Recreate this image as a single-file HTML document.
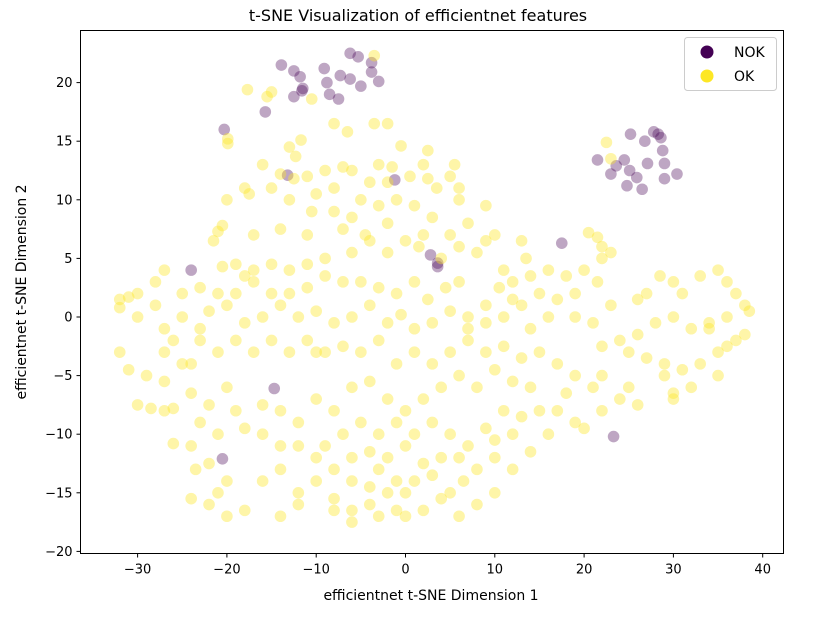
<!DOCTYPE html>
<html><head><meta charset="utf-8"><style>
body{margin:0;background:#fff;}
svg{display:block;font-family:"DejaVu Sans","Liberation Sans",sans-serif;}
</style></head><body>
<svg id="chart" width="836" height="630">
<rect x="0" y="0" width="836" height="630" fill="#fff"/>
<g id="marks"></g>
<rect x="80.5" y="30.5" width="703" height="523" fill="none" stroke="#000" stroke-width="1"/>
<g id="axes"></g>
<text x="418" y="21" text-anchor="middle" font-size="16">t-SNE Visualization of efficientnet features</text>
<text x="431" y="600" text-anchor="middle" font-size="14">efficientnet t-SNE Dimension 1</text>
<text transform="translate(26,292) rotate(-90)" text-anchor="middle" font-size="14">efficientnet t-SNE Dimension 2</text>
<g>
<rect x="684.5" y="37.5" width="92" height="53" rx="3" fill="#fff" fill-opacity="0.8" stroke="#ccc"/>
<g><circle cx="707" cy="52" r="6.5" fill="#440154"/><text x="734" y="57" font-size="14">NOK</text></g>
<g><circle cx="707" cy="76" r="6.5" fill="#fde725"/><text x="734" y="81" font-size="14">OK</text></g>
</g>
</svg>
<script>
const xTicks=[-30,-20,-10,0,10,20,30,40];
const yTicks=[-20,-15,-10,-5,0,5,10,15,20];
const nokX=[-13.9,-12.5,-11.8,-11.5,-12.5,-15.7,-20.3,-9.1,-8.8,-8.5,-7.5,-7.3,-6.2,-5,-6.2,-5.3,-3.8,-3.8,-3,-13.2,-1.2,-11.6,-24,2.8,3.6,3.6,17.5,-14.7,-20.5,23.3,25.2,26.8,27.8,28.3,28.6,28.8,21.5,23.6,24.5,23,25.1,25.9,24.8,26.5,27.1,29,29,30.4];
const nokY=[21.5,21,20.5,19.5,18.8,17.5,16,21.2,20,19,18.6,20.6,20.3,19.7,22.5,22.2,21.7,20.9,20.1,12.1,11.7,19.3,4,5.3,4.6,4.3,6.3,-6.1,-12.1,-10.2,15.6,15,15.8,15.6,15.3,14.2,13.4,12.9,13.4,12.2,12.5,11.9,11.2,10.9,13.1,13.1,11.8,12.2];
const okX=[-3.5,-17.7,-15.5,-15,-10.5,-11.7,-12.3,-13,-8,-6.5,-3.5,-2,-0.5,2.5,-19.9,-19.9,-3,-1.5,-11,-9,-7,-14,-12.5,-16,-18,-17.5,-20,-6,-4,-5,0.5,2,2.5,-2,3.5,5.5,5,6,-15,-13,-10,-8,-10.5,-8,-6,-3,-1,1,3,6,9,10,7,5,2,-2,-4.5,-7,-11,-14,-17,-20.5,-21,-21.5,-19,-20.5,-18,-17,-15,-13,-11,-9,-6,-4,-2,0,1.5,4,6,8,9,13,13.5,11,16,14,12,18,20.5,21.5,22,23,22,20,21.5,19,17,15,13,10.5,9,7,6,4.5,2.5,1,-1,-3,-5,-7,-9,-11,-13,-15,-17,-19,-21,-23,-25,-27,-28,-30,-31,-32,-32,-30,-28,-27,-26,-25,-23,-22,-20,-18,-16,-14,-12,-10,-8,-6,-4,-2,-0.5,1,3,5,7,9,11,12,14,16,19,21,23,26,27,28.5,30,31,33,35,36,37,38,38.5,36,34,32,30,28,26,24,22,25,27,29,31,33,35,37,38,36,34,30,32,35,29,25,21,19,17,15,13,11,9,7,5,3,1,-1,-3,-5,-7,-9,-11,-13,-15,-17,-19,-21,-23,-25,-27,-29,-31,-32,-30,-28.5,-27,-24,-22,-20,-19,-18,-21,-23,-24,-22,-23.5,-20,-21,-22,-24,-20,-18,-16,-14,-12,-10,-8,-6,-4,-2,0,1,3,5,6.5,8,10,12,13,15,16,17,19,20,22,24,26,22,18,14,12,10,8,6,4,2,0,-2,-4,-6,-8,-10,-12,-14,-16,-9,-7,-5,-3,-1,1,3,5,7,9,11,6,4,2,0,-2,-4,-6,-8,-10,-12,-14,-16,0,-1,-3,2,4,8,10,12,14,10,-26,-27,-24,-10,30,-6,-4,-8,-12,-14,-6,-1,6,-3,-26,23,22.5];
const okY=[22.3,19.4,18.8,19.2,18.6,15.1,13.7,14.5,16.5,15.8,16.5,16.5,14.6,14.2,15.2,14.8,13,12.8,12,12.5,12.8,12.2,11.8,13,11,10.5,10,12.5,11.5,10,12,13,11.8,11.5,11,13,12,11,11,10,10.5,11,9,9,8.5,9.5,10,9.5,8.5,10,9.5,7,8,7,7,8,7,7.5,7,7.5,7,7.8,7.3,6.5,4.5,4.3,3.5,4,4.5,4,4.5,5,5.5,6.5,5.5,6.5,6,5,6,5.5,6.5,6.5,5,4,4,3.5,3,3.5,7.2,6.8,6,5.5,5,4,3,2,1.5,2,1,2.5,1,0,3,2.5,1.5,3,2,2.5,3,3,3.5,2.5,2,2,3,2,2,2.5,2,4,3,2,1.7,1.5,0.8,0,1,-1,-2,0,-1,0.5,1,-0.5,0,1,0,0.5,-0.5,0,1,-0.5,0.2,-1,-0.5,0.5,-1,-0.5,0,1.5,-1,0,0,-0.5,1,1.5,2,3.5,3,2,3.5,4,3,2,1,0.5,0,-0.5,-1,0,-0.5,-1.5,-2,-2.5,-3,-3.5,-4,-4.5,-4,-3,-2,-1.5,-2.5,-1,-6.5,-6,-5,-5,-6,-6,-5,-4,-3,-3.5,-2.5,-3,-2,-3,-4,-3,-4,-2,-3,-2.5,-3,-2,-3,-2,-3,-2,-3,-2,-4,-3,-5,-4.5,-3,-7.5,-7.8,-5.5,-6.5,-7.5,-6,-8,-9.5,-10,-9,-11,-12.5,-13,-14,-15,-16,-15.5,-17,-16.5,-14,-13,-15,-14,-15.5,-16.5,-16,-15,-17,-14,-13.5,-15,-14,-13,-12,-10,-8.5,-8,-10,-8,-9,-9.5,-8,-7,-7.5,-5,-6.5,-6,-5.5,-4.5,-6,-5,-6,-7,-8,-7,-5.5,-6,-8,-7,-9,-8,-7.5,-11,-10,-9,-10,-9,-10,-9,-10,-11,-9.5,-8,-12,-12,-12.5,-11,-12,-11.5,-12,-13,-12,-11,-11,-10,-15,-16.5,-17,-16.5,-15.5,-16,-15,-13,-11.5,-10.5,-10.8,-8,-4,-3,-7,-14,-14.5,-16.5,-16,-17,-17.5,-14,-17,-13,-7.8,13.5,14.9];
const NS='http://www.w3.org/2000/svg';
const X0=80.5,X1=783.5,Y0=30.5,Y1=553.5;
function sx(v){return 405.5+(v)*8.93;}
function sy(v){return 317-(v)*11.72;}
const marks=document.getElementById('marks');
const axes=document.getElementById('axes');
for(let i=0;i<nokX.length;i++){
  const c=document.createElementNS(NS,'circle');
  c.setAttribute('cx',sx(nokX[i]));c.setAttribute('cy',sy(nokY[i]));c.setAttribute('r',5.8);
  c.setAttribute('fill','#440154');c.setAttribute('fill-opacity','0.35');
  
  
  marks.appendChild(c);
}
for(let i=0;i<okX.length;i++){
  const c=document.createElementNS(NS,'circle');
  c.setAttribute('cx',sx(okX[i]));c.setAttribute('cy',sy(okY[i]));c.setAttribute('r',5.8);
  c.setAttribute('fill','#fde725');c.setAttribute('fill-opacity','0.4');
  
  
  marks.appendChild(c);
}
xTicks.forEach(t=>{
  const x=sx(t);
  const l=document.createElementNS(NS,'line');
  l.setAttribute('x1',x);l.setAttribute('x2',x);l.setAttribute('y1',Y1);l.setAttribute('y2',Y1+4);l.setAttribute('stroke','#000');
  
  
  axes.appendChild(l);
  const tx=document.createElementNS(NS,'text');
  tx.setAttribute('x',x);tx.setAttribute('y',Y1+20);tx.setAttribute('text-anchor','middle');tx.setAttribute('font-size','13');
  tx.textContent=t<0?'\u2212'+Math.abs(t):String(t);
  
  
  axes.appendChild(tx);
});
yTicks.forEach(t=>{
  const y=sy(t);
  const l=document.createElementNS(NS,'line');
  l.setAttribute('x1',X0-4);l.setAttribute('x2',X0);l.setAttribute('y1',y);l.setAttribute('y2',y);l.setAttribute('stroke','#000');
  
  
  axes.appendChild(l);
  const tx=document.createElementNS(NS,'text');
  tx.setAttribute('x',X0-8);tx.setAttribute('y',y+4.5);tx.setAttribute('text-anchor','end');tx.setAttribute('font-size','13');
  tx.textContent=t<0?'\u2212'+Math.abs(t):String(t);
  
  
  axes.appendChild(tx);
});
</script>
</body></html>
